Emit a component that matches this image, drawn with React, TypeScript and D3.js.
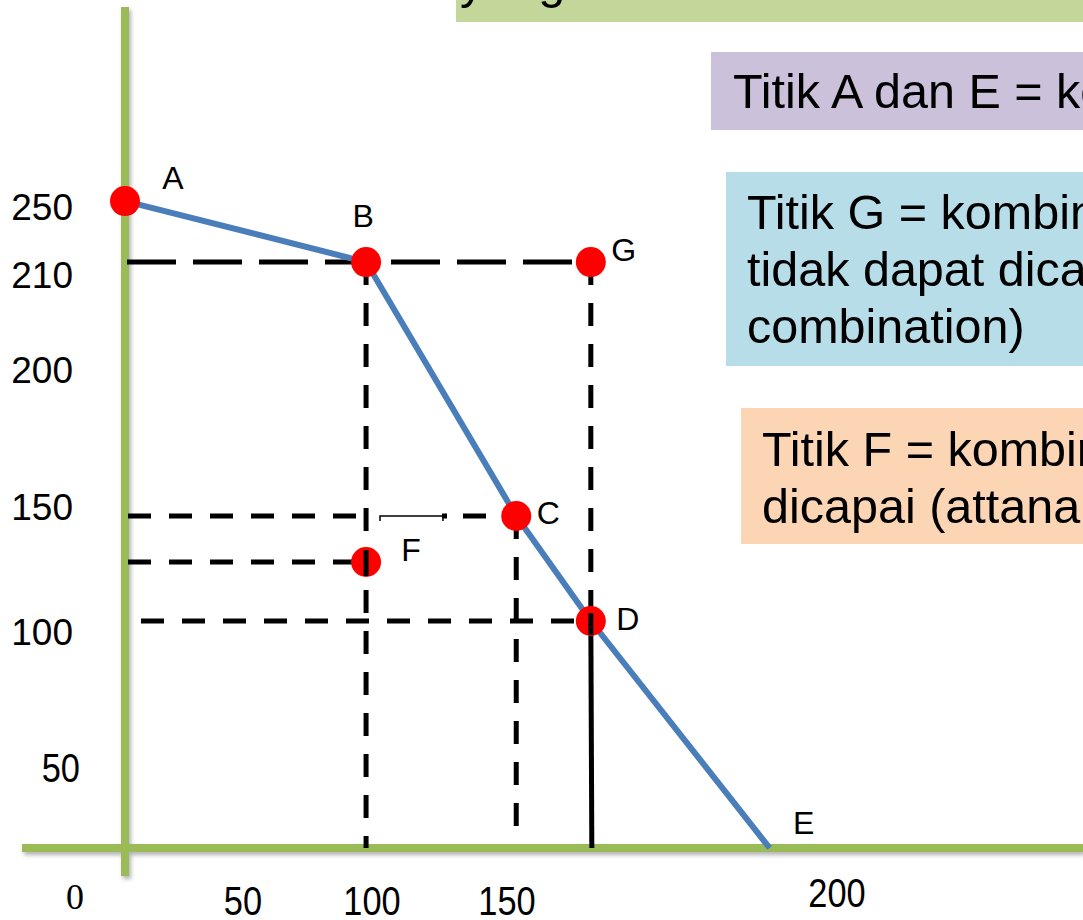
import { scaleLinear, line } from 'd3'

// Kurva kemungkinan produksi (PPF) — titik A..E di kurva, F di dalam, G di luar.
// Skala sumbu di gambar asli tidak linear, jadi dipakai skala piecewise lewat label tick.

const X_TICKS = [0, 50, 100, 150, 200]
const Y_TICKS = [250, 210, 200, 150, 100, 50]

const POINT_NAMES = ['A', 'B', 'C', 'D', 'E', 'F', 'G']
const POINT_X = [0, 97.7, 151.4, 162.7, 189.8, 97.7, 162.7]
const POINT_Y = [253.5, 217.6, 146.4, 104.4, 0, 128, 217.6]
const FRONTIER = ['A', 'B', 'C', 'D', 'E']

const TOP_NOTE = ['yang efisien']
const NOTE_AE = ['Titik A dan E = kombinasi produksi yang tidak efisien']
const NOTE_G = ['Titik G = kombinasi produksi yang', 'tidak dapat dicapai (unattainable', 'combination)']
const NOTE_F = ['Titik F = kombinasi produksi yang dapat', 'dicapai (attanainable)']

const W = 1083
const H = 920
const SANS = '"Liberation Sans", Arial, sans-serif'
const GREEN = '#9bbb59'
const BLUE = '#4a7ebb'
const NOTE_FS = 48.5

// posisi label huruf relatif ke titik (pusat teks)
const LABEL_OFF: Record<string, [number, number]> = {
  A: [48, -24],
  B: [-3, -47],
  C: [32, -4],
  D: [37, -3],
  E: [34, -26],
  F: [45, -13],
  G: [33, -13],
}

const x = scaleLinear().domain([0, 50, 100, 150, 200]).range([125, 243, 372, 507, 837])
const y = scaleLinear().domain([0, 50, 100, 150, 200, 210, 250]).range([848, 768, 632, 507, 370, 275, 207])

const pt = (name: string) => {
  const i = POINT_NAMES.indexOf(name)
  return { px: x(POINT_X[i]), py: y(POINT_Y[i]) }
}

function Note({ x0, y0, w, h, fill, lines, tx, base, lh }: {
  x0: number; y0: number; w: number; h: number; fill: string; lines: string[]; tx: number; base: number; lh: number
}) {
  return (
    <g>
      <rect x={x0} y={y0} width={w} height={h} fill={fill} />
      {lines.map((t, i) => (
        <text key={i} x={tx} y={base + i * lh} fontFamily={SANS} fontSize={NOTE_FS} fill="#000">
          {t}
        </text>
      ))}
    </g>
  )
}

export default function App() {
  const frontierPath = line<string>()
    .x((n) => pt(n).px)
    .y((n) => pt(n).py)(FRONTIER)

  const B = pt('B'), C = pt('C'), D = pt('D'), F = pt('F'), G = pt('G')
  const x0 = x(0)
  const y0 = y(0)

  const longDash = '49 17'
  const shortDash = '23 18'

  return (
    <svg width={W} height={H} style={{ position: 'absolute', left: 0, top: 0, background: '#fff' }}>
      <defs>
        <filter id="sh" x="-20%" y="-20%" width="140%" height="140%">
          <feDropShadow dx={2} dy={3} stdDeviation={2} floodColor="#000" floodOpacity={0.3} />
        </filter>
      </defs>

      {/* kotak keterangan */}
      <Note x0={456} y0={-40} w={640} h={62} fill="#c4d79b" lines={TOP_NOTE} tx={460} base={-2} lh={0} />
      <Note x0={711} y0={52} w={400} h={78} fill="#ccc1da" lines={NOTE_AE} tx={733} base={108} lh={0} />
      <Note x0={726} y0={172} w={400} h={194} fill="#b7dee8" lines={NOTE_G} tx={747} base={229} lh={57} />
      <Note x0={741} y0={408} w={400} h={136} fill="#fcd5b5" lines={NOTE_F} tx={762} base={466} lh={57} />

      {/* sumbu */}
      <g filter="url(#sh)">
        <line x1={x0} x2={x0} y1={7} y2={876} stroke={GREEN} strokeWidth={8} />
        <line x1={22} x2={W} y1={y0} y2={y0} stroke={GREEN} strokeWidth={8} />
      </g>

      {/* garis bantu putus-putus */}
      <g stroke="#000" fill="none">
        <line x1={x0 + 2} x2={G.px} y1={B.py} y2={G.py} strokeWidth={5} strokeDasharray={longDash} />
        <line x1={B.px} x2={B.px} y1={B.py} y2={y0} strokeWidth={5} strokeDasharray={shortDash} />
        <line x1={x0 + 3} x2={B.px + 4} y1={C.py} y2={C.py} strokeWidth={5} strokeDasharray={shortDash} />
        <line x1={442} x2={C.px} y1={C.py} y2={C.py} strokeWidth={5} strokeDasharray="5 16 23 18" />
        <path d={`M380,${C.py + 5}V${C.py}H443V${C.py + 5}`} strokeWidth={1.5} />
        <line x1={x0 + 3} x2={F.px} y1={F.py} y2={F.py} strokeWidth={5} strokeDasharray={shortDash} />
        <line x1={x0 + 16} x2={D.px} y1={D.py} y2={D.py} strokeWidth={5} strokeDasharray={shortDash} />
        <line x1={C.px} x2={C.px} y1={C.py} y2={y0 - 8} strokeWidth={5} strokeDasharray={shortDash} />
        <line x1={G.px} x2={G.px} y1={G.py} y2={D.py} strokeWidth={5} strokeDasharray={shortDash} />
        <line x1={D.px} x2={D.px + 1} y1={D.py} y2={y0} strokeWidth={5} />
      </g>

      {/* kurva PPF */}
      <path d={frontierPath ?? ''} fill="none" stroke={BLUE} strokeWidth={6} strokeLinejoin="round" />

      {/* titik */}
      {POINT_NAMES.filter((n) => n !== 'E').map((n) => {
        const p = pt(n)
        return <circle key={n} cx={p.px} cy={p.py} r={15} fill="#ff0000" />
      })}
      {/* garis vertikal B dan D menimpa titik F dan D */}
      <line x1={F.px} x2={F.px} y1={F.py - 12} y2={F.py + 14} stroke="#000" strokeWidth={5} />
      <line x1={D.px} x2={D.px} y1={D.py - 8} y2={D.py + 14} stroke="#000" strokeWidth={5} />

      {/* label huruf */}
      {POINT_NAMES.map((n) => {
        const p = pt(n)
        const [dx, dy] = LABEL_OFF[n]
        return (
          <text key={n} x={p.px + dx} y={p.py + dy + 0.36 * 32} textAnchor="middle" fontFamily={SANS} fontSize={32}>
            {n}
          </text>
        )
      })}

      {/* tick sumbu Y */}
      {Y_TICKS.map((t) =>
        t === 50 ? (
          <text key={t} transform={`translate(80,${y(t) + 0.36 * 40}) scale(0.86,1)`} textAnchor="end" fontFamily={SANS} fontSize={40}>
            {t}
          </text>
        ) : (
          <text key={t} x={73} y={y(t) + 0.36 * 37} textAnchor="end" fontFamily={SANS} fontSize={37}>
            {t}
          </text>
        ),
      )}

      {/* tick sumbu X */}
      {X_TICKS.map((t) =>
        t === 0 ? (
          <text key={t} x={x(t) - 50} y={909} textAnchor="middle" fontFamily='"Liberation Serif", serif' fontSize={36}>
            {t}
          </text>
        ) : (
          <text
            key={t}
            transform={`translate(${x(t)},${t === 200 ? 907 : 915}) scale(0.86,1)`}
            textAnchor="middle"
            fontFamily={SANS}
            fontSize={40}
          >
            {t}
          </text>
        ),
      )}
    </svg>
  )
}
